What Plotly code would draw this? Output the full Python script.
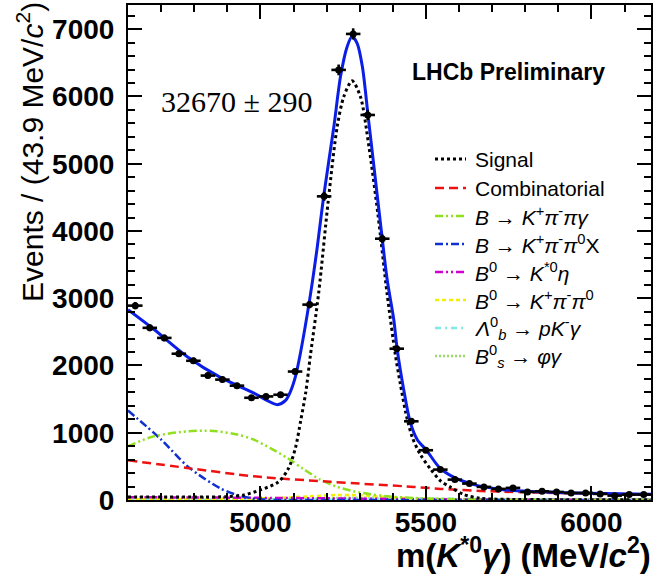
import numpy as np
import plotly.graph_objects as go

# ---------------- data -----------------
X_LO, X_HI, N_BINS = 4600.0, 6180.0, 36
BIN_W = (X_HI - X_LO) / N_BINS  # 43.9 MeV

counts = [2890, 2560, 2410, 2175, 2070, 1850, 1790, 1700, 1520, 1540, 1565, 1910,
          2905, 4515, 6395, 6930, 5725, 3885, 2250, 1170, 740, 452, 303, 244,
          195, 165, 180, 120, 129, 120, 105, 105, 91, 65, 80, 80]

total_x = [4600, 4677, 4778, 4879, 4980, 5020, 5051, 5076, 5091, 5106, 5121, 5151, 5172,
           5191, 5222, 5242, 5262, 5277, 5292, 5308, 5325, 5343, 5368, 5383, 5403, 5413,
           5433, 5452, 5474, 5502, 5542, 5588, 5645, 5716, 5807, 5947, 6180]
total_y = [2830, 2542, 2135, 1823, 1591, 1481, 1418, 1481, 1615, 1838, 2186, 3050, 3770,
           4513, 5553, 6296, 6741, 6890, 6792, 6444, 5727, 4958, 3884, 3275, 2680, 2250,
           1640, 1169, 897, 738, 477, 328, 229, 165, 129, 105, 85]

signal_x = [4600, 4800, 4900, 4950, 5000, 5054, 5085, 5106, 5122, 5137, 5151, 5176, 5205,
            5232, 5252, 5277, 5302, 5328, 5355, 5383, 5408, 5423, 5439, 5459, 5484, 5514,
            5544, 5575, 5615, 5665, 5750, 5900, 6180]
signal_y = [45, 45, 50, 75, 150, 267, 471, 777, 1186, 1600, 2150, 3077, 4450, 5553, 5998,
            6232, 6000, 5250, 4250, 3060, 2150, 1720, 1300, 930, 670, 460, 285, 190, 80,
            25, 10, 5, 3]

comb_x = [4600, 4778, 4980, 5212, 5464, 5544, 5695, 5900, 6180]
comb_y = [590, 477, 352, 270, 195, 165, 129, 105, 78]

kppg_x = [4600, 4677, 4778, 4830, 4869, 4930, 4980, 5030, 5081, 5130, 5181, 5232, 5282,
          5333, 5383, 5484, 5604, 5800, 6180]
kppg_y = [800, 946, 1021, 1030, 1021, 975, 897, 770, 626, 460, 303, 195, 129, 85, 55, 25,
          10, 3, 0]

kpp0x_x = [4600, 4700, 4780, 4880, 4940, 4990, 5050, 5100, 6180]
kpp0x_y = [1330, 900, 500, 170, 60, 15, 0, 0, 0]

kseta_x = [4600, 4800, 5000, 5200, 5400, 5600, 5900, 6180]
kseta_y = [40, 38, 32, 25, 15, 8, 3, 1]

kppi0_x = [4600, 4900, 5050, 5150, 5230, 5300, 5380, 5480, 5600, 5800, 6180]
kppi0_y = [10, 15, 30, 55, 75, 70, 45, 20, 8, 2, 0]

lb_x = [4600, 5000, 5200, 5350, 5500, 5700, 5900, 6180]
lb_y = [3, 5, 10, 18, 20, 12, 6, 3]

bs_x = [4600, 5000, 5150, 5280, 5400, 5550, 5800, 6180]
bs_y = [5, 8, 20, 35, 30, 15, 5, 2]

legend_labels = [
    "Signal",
    "Combinatorial",
    "<i>B</i> → <i>K</i><sup>+</sup><i>π</i><sup>-</sup><i>πγ</i>",
    "<i>B</i> → <i>K</i><sup>+</sup><i>π</i><sup>-</sup><i>π</i><sup>0</sup>X",
    "<i>B</i><sup>0</sup> → <i>K</i><sup>*0</sup><i>η</i>",
    "<i>B</i><sup>0</sup> → <i>K</i><sup>+</sup><i>π</i><sup>-</sup><i>π</i><sup>0</sup>",
    "<i>Λ</i><sup>0</sup><sub><i>b</i></sub> → <i>pK</i><sup>-</sup><i>γ</i>",
    "<i>B</i><sup>0</sup><sub><i>s</i></sub> → <i>φγ</i>",
]

# ---------------- styles -----------------
W, H = 658, 581
ML, MR, MT, MB = 128, 7, 5, 81
PW, PH = W - ML - MR, H - MT - MB

def px2x(px):
    return (px - ML) / PW

def py2y(py):
    return (H - MB - py) / PH

comp_styles = [
    # (x, y, color, dash, width)
    (signal_x, signal_y, "#000000", "3px,3px", 3),
    (comb_x, comb_y, "#ee1111", "9px,5px", 2.5),
    (kppg_x, kppg_y, "#90e020", "8px,3px,2px,3px,2px,3px", 2.5),
    (kpp0x_x, kpp0x_y, "#1030d0", "8px,3px,2px,3px", 2.5),
    (kseta_x, kseta_y, "#d000d0", "8px,3px,2px,3px,2px,3px", 2.5),
    (kppi0_x, kppi0_y, "#f0f000", "4px,3px", 2.5),
    (lb_x, lb_y, "#80e8e8", "6px,4px,2px,4px", 2.5),
    (bs_x, bs_y, "#99dd66", "2px,2px", 2.5),
]

fig = go.Figure()

for idx in [7, 6, 5, 4, 3, 2, 1, 0]:
    xs, ys, col, dash, wd = comp_styles[idx]
    fig.add_trace(go.Scatter(x=xs, y=ys, mode="lines",
                             line=dict(color=col, dash=dash, width=wd, shape="spline", smoothing=0.8),
                             showlegend=False, hoverinfo="skip"))

fig.add_trace(go.Scatter(x=total_x, y=total_y, mode="lines",
                         line=dict(color="#0a1ee6", width=3, shape="spline", smoothing=0.8),
                         showlegend=False, hoverinfo="skip"))

centers = X_LO + BIN_W * (np.arange(N_BINS) + 0.5)
cnt = np.array(counts, dtype=float)
fig.add_trace(go.Scatter(
    x=centers, y=cnt, mode="markers",
    marker=dict(color="black", size=7),
    error_x=dict(type="constant", value=BIN_W / 2, thickness=2.6, width=0, color="black"),
    error_y=dict(type="data", array=np.sqrt(cnt), thickness=2.6, width=0, color="black"),
    showlegend=False, hoverinfo="skip"))

tickfont = dict(family="Liberation Sans, Arial, sans-serif", size=28, color="black", weight="bold")

fig.update_layout(
    width=W, height=H, autosize=False,
    margin=dict(l=ML, r=MR, t=MT, b=MB, pad=0),
    paper_bgcolor="white", plot_bgcolor="white",
    showlegend=False,
    xaxis=dict(range=[X_LO, X_HI], tickmode="linear", tick0=5000, dtick=500,
               ticks="inside", ticklen=14, tickwidth=1.5, tickcolor="black",
               showline=True, linewidth=2, linecolor="black", mirror="allticks",
               showgrid=False, zeroline=False, tickfont=tickfont, automargin=False,
               minor=dict(tick0=4600, dtick=100, ticks="inside", ticklen=7,
                          tickwidth=1.5, tickcolor="black", showgrid=False),
               ticklabelstandoff=-4),
    yaxis=dict(range=[0, 7360], tickmode="linear", tick0=0, dtick=1000,
               ticks="inside", ticklen=14, tickwidth=1.5, tickcolor="black",
               showline=True, linewidth=2, linecolor="black", mirror="allticks",
               showgrid=False, zeroline=False, tickfont=tickfont, automargin=False,
               minor=dict(dtick=200, ticks="inside", ticklen=7,
                          tickwidth=1.5, tickcolor="black", showgrid=False),
               ticklabelstandoff=6),
)

ann = []
ann.append(dict(text="m(<i>K</i><sup>*0</sup><i>γ</i>) (MeV/<i>c</i><sup>2</sup>)",
                xref="paper", yref="paper", x=px2x(653), y=py2y(553),
                xanchor="right", yanchor="middle", showarrow=False,
                font=dict(family="Liberation Sans, Arial, sans-serif", size=33,
                          color="black", weight="bold")))
ann.append(dict(text="Events / (43.9 MeV/<i>c</i><sup>2</sup>)",
                xref="paper", yref="paper", x=px2x(30), y=py2y(0),
                xanchor="center", yanchor="top", textangle=-90, showarrow=False,
                font=dict(family="Liberation Sans, Arial, sans-serif", size=30, color="black")))
ann.append(dict(text="LHCb Preliminary", xref="paper", yref="paper",
                x=px2x(508), y=py2y(72), xanchor="center", yanchor="middle", showarrow=False,
                font=dict(family="Liberation Sans, Arial, sans-serif", size=23,
                          color="black", weight="bold")))
ann.append(dict(text="32670 ± 290", xref="paper", yref="paper",
                x=px2x(236), y=py2y(101), xanchor="center", yanchor="middle", showarrow=False,
                font=dict(family="Liberation Serif, Times New Roman, serif", size=30, color="black")))

row_y = [159, 188, 216, 244, 272, 300, 328, 356]
shapes = []
for i, lab in enumerate(legend_labels):
    xs, ys, col, dash, wd = comp_styles[i]
    yy = py2y(row_y[i])
    shapes.append(dict(type="line", xref="paper", yref="paper",
                       x0=px2x(435), x1=px2x(466), y0=yy, y1=yy,
                       line=dict(color=col, dash=dash, width=wd)))
    ann.append(dict(text=lab, xref="paper", yref="paper", x=px2x(473), y=yy,
                    xanchor="left", yanchor="middle", showarrow=False,
                    font=dict(family="Liberation Sans, Arial, sans-serif", size=21, color="black")))

fig.update_layout(annotations=ann, shapes=shapes)

fig.write_html("out.html", config={"displayModeBar": False},
               post_script="document.body.style.margin='0';")
